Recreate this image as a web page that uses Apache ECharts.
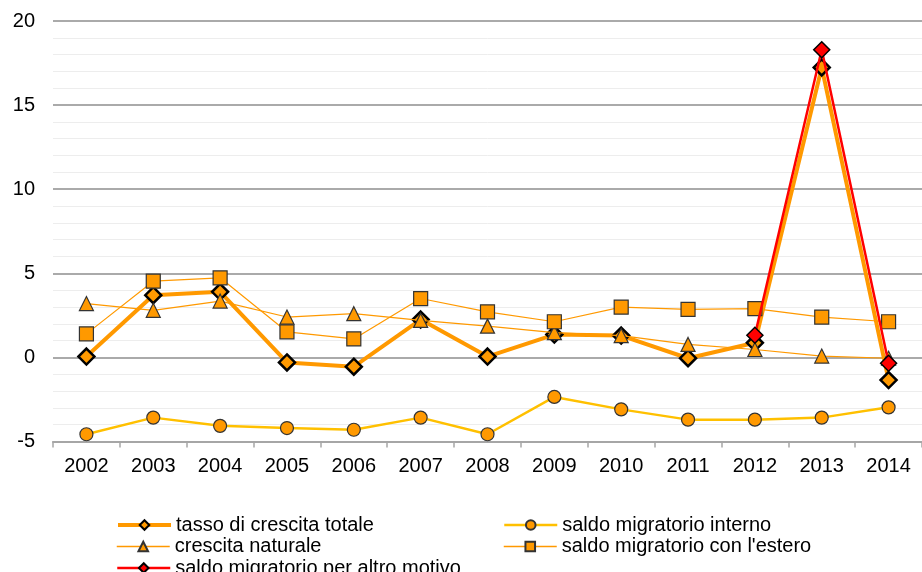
<!DOCTYPE html>
<html>
<head>
<meta charset="utf-8">
<script src="https://cdn.jsdelivr.net/npm/echarts@6/dist/echarts.min.js"></script>
<style>
  html, body { margin: 0; padding: 0; background: #fff; }
  #chart { width: 922px; height: 572px; }
</style>
</head>
<body>
<div id="chart"></div>
<script>
// dati
const years = ['2002', '2003', '2004', '2005', '2006', '2007', '2008', '2009', '2010', '2011', '2012', '2013', '2014']
const tassoTotale = [0.05, 3.7, 3.9, -0.3, -0.55, 2.25, 0.05, 1.36, 1.3, -0.05, 0.87, 17.24, -1.35]
const saldoInterno = [-4.57, -3.58, -4.07, -4.2, -4.3, -3.58, -4.57, -2.35, -3.09, -3.7, -3.7, -3.58, -2.97]
const crescitaNaturale = [3.2, 2.8, 3.35, 2.4, 2.6, 2.2, 1.86, 1.47, 1.3, 0.77, 0.47, 0.08, -0.05]
const saldoEstero = [1.4, 4.53, 4.73, 1.52, 1.1, 3.5, 2.71, 2.12, 2.99, 2.85, 2.9, 2.4, 2.12]
const saldoAltro = [null, null, null, null, null, null, null, null, null, null, 1.32, 18.29, -0.35]

const FONT = 'Liberation Sans, Arial, sans-serif'
const orange = '#FF9900'

const chart = echarts.init(document.getElementById('chart'))

// una legenda per voce, per tenere le due colonne come nell'originale
const legendItem = (name, left, top, lineWidth) => ({
  left: left,
  top: top,
  itemWidth: 53,
  itemHeight: 12,
  selectedMode: false,
  lineStyle: { width: lineWidth },
  textStyle: { fontFamily: FONT, fontSize: 20, color: '#000' },
  data: [name]
})

const option = {
  animation: false,
  backgroundColor: '#fff',
  grid: { left: 53, right: -8, top: 21, bottom: 130.5 },
  legend: [
    legendItem('tasso di crescita totale', 111, 510, 4),
    legendItem('crescita naturale', 111, 531.5, 1.5),
    legendItem('saldo migratorio per altro motivo', 111, 553, 2.5),
    legendItem('saldo migratorio interno', 498, 510, 2.5),
    legendItem("saldo migratorio con l'estero", 498, 531.5, 1.5)
  ],
  xAxis: {
    type: 'category',
    data: years,
    boundaryGap: true,
    axisLine: { onZero: false, lineStyle: { color: '#A6A6A6', width: 2 } },
    axisTick: { show: true, length: 6, interval: 0, lineStyle: { color: '#A6A6A6', width: 1.5 } },
    axisLabel: { color: '#000', fontFamily: FONT, fontSize: 20, margin: 15, interval: 0 },
    splitLine: { show: false }
  },
  yAxis: {
    type: 'value',
    min: -5,
    max: 20,
    interval: 5,
    axisLine: { show: false },
    axisTick: { show: false },
    axisLabel: { color: '#000', fontFamily: FONT, fontSize: 20, margin: 18 },
    splitLine: { lineStyle: { color: '#AAAAAA', width: 2 } },
    minorTick: { show: false, splitNumber: 5 },
    minorSplitLine: { show: true, lineStyle: { color: '#EDEDED', width: 1 } }
  },
  series: [
    {
      name: 'tasso di crescita totale',
      type: 'line',
      data: tassoTotale,
      symbol: 'diamond',
      symbolSize: 16,
      lineStyle: { color: orange, width: 4 },
      itemStyle: { color: orange, borderColor: '#000', borderWidth: 2.5 },
      z: 2
    },
    {
      name: 'saldo migratorio interno',
      type: 'line',
      data: saldoInterno,
      symbol: 'circle',
      symbolSize: 13,
      lineStyle: { color: '#FFC000', width: 2.5 },
      itemStyle: { color: orange, borderColor: '#333', borderWidth: 1.2 },
      z: 3
    },
    {
      name: 'crescita naturale',
      type: 'line',
      data: crescitaNaturale,
      symbol: 'triangle',
      symbolSize: 14,
      lineStyle: { color: orange, width: 1.2 },
      itemStyle: { color: orange, borderColor: '#333', borderWidth: 1.2 },
      z: 4
    },
    {
      name: "saldo migratorio con l'estero",
      type: 'line',
      data: saldoEstero,
      symbol: 'rect',
      symbolSize: 14,
      lineStyle: { color: orange, width: 1.2 },
      itemStyle: { color: orange, borderColor: '#333', borderWidth: 1.2 },
      z: 5
    },
    {
      name: 'saldo migratorio per altro motivo',
      type: 'line',
      data: saldoAltro,
      symbol: 'diamond',
      symbolSize: 16,
      connectNulls: false,
      lineStyle: { color: '#FF0000', width: 2.5 },
      itemStyle: { color: '#FF0000', borderColor: '#000', borderWidth: 1.5 },
      z: 6
    }
  ]
}

chart.setOption(option)
</script>
</body>
</html>
